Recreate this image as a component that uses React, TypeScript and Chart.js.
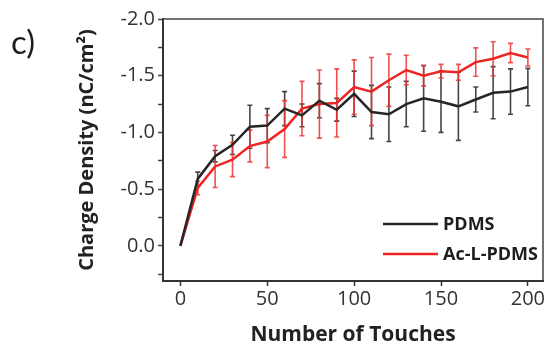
import React, { useEffect, useRef } from "react";
import { Chart, registerables } from "chart.js";

Chart.register(...registerables);

const touches = [0, 10, 20, 30, 40, 50, 60, 70, 80, 90, 100, 110, 120, 130, 140, 150, 160, 170, 180, 190, 200];
const pdms = [0, -0.59, -0.79, -0.89, -1.05, -1.06, -1.21, -1.15, -1.28, -1.2, -1.34, -1.18, -1.16, -1.25, -1.3, -1.27, -1.23, -1.29, -1.35, -1.36, -1.4];
const pdmsErr = [0, 0.06, 0.05, 0.085, 0.19, 0.15, 0.15, 0.1, 0.15, 0.1, 0.2, 0.235, 0.24, 0.2, 0.29, 0.27, 0.3, 0.11, 0.23, 0.2, 0.165];
const acl = [0, -0.51, -0.7, -0.76, -0.88, -0.92, -1.03, -1.21, -1.25, -1.26, -1.4, -1.36, -1.46, -1.55, -1.5, -1.54, -1.53, -1.62, -1.65, -1.7, -1.66];
const aclErr = [0, 0.06, 0.185, 0.15, 0.14, 0.23, 0.25, 0.24, 0.3, 0.3, 0.24, 0.3, 0.23, 0.13, 0.09, 0.06, 0.07, 0.125, 0.15, 0.085, 0.075];

const seriesNames = ["PDMS", "Ac-L-PDMS"];
const xTitle = "Number of Touches";
const yTitle = "Charge Density (nC/cm²)";
const panelLabel = "c)";

const lineColors = ["#262626", "#ee2424"];
const errColors = ["rgba(50,50,50,0.9)", "rgba(236,50,50,0.85)"];
const errors = [pdmsErr, aclErr];

const errorBarPlugin = {
  id: "errorBars",
  beforeDatasetsDraw(chart: any) {
    const ctx = chart.ctx;
    const xs = chart.scales.x;
    const ys = chart.scales.y;
    const area = chart.chartArea;
    ctx.save();
    ctx.beginPath();
    ctx.rect(area.left, area.top, area.right - area.left, area.bottom - area.top);
    ctx.clip();
    chart.data.datasets.forEach((ds: any, i: number) => {
      const err = errors[i];
      ctx.strokeStyle = errColors[i];
      ctx.lineWidth = 1.6;
      ds.data.forEach((p: any, j: number) => {
        const e = err[j];
        if (!e) return;
        const x = xs.getPixelForValue(p.x);
        const y1 = ys.getPixelForValue(p.y - e);
        const y2 = ys.getPixelForValue(p.y + e);
        ctx.beginPath();
        ctx.moveTo(x, y1);
        ctx.lineTo(x, y2);
        ctx.moveTo(x - 2.5, y1);
        ctx.lineTo(x + 2.5, y1);
        ctx.moveTo(x - 2.5, y2);
        ctx.lineTo(x + 2.5, y2);
        ctx.stroke();
      });
    });
    ctx.restore();
  },
  afterDraw(chart: any) {
    const ctx = chart.ctx;
    const area = chart.chartArea;
    ctx.save();
    ctx.strokeStyle = "#444";
    ctx.lineWidth = 1.5;
    ctx.beginPath();
    ctx.moveTo(area.left, area.top);
    ctx.lineTo(area.right, area.top);
    ctx.lineTo(area.right, area.bottom);
    ctx.stroke();
    const lx0 = area.right - 160;
    const lx1 = area.right - 105;
    const rows = [area.top + 205, area.top + 235];
    ctx.font = "bold 18px 'Open Sans'";
    ctx.textBaseline = "middle";
    ctx.textAlign = "left";
    seriesNames.forEach((name, i) => {
      ctx.strokeStyle = lineColors[i];
      ctx.lineWidth = 2.5;
      ctx.beginPath();
      ctx.moveTo(lx0, rows[i]);
      ctx.lineTo(lx1, rows[i]);
      ctx.stroke();
      ctx.fillStyle = "#1e1e1e";
      ctx.fillText(name, lx1 + 5, rows[i] + 1);
    });
    ctx.restore();
  },
};

export default function App() {
  const ref = useRef<HTMLCanvasElement | null>(null);

  useEffect(() => {
    if (!ref.current) return;
    const chart = new Chart(ref.current, {
      type: "line",
      data: {
        datasets: [
          {
            label: seriesNames[0],
            data: touches.map((t, i) => ({ x: t, y: pdms[i] })),
            borderColor: lineColors[0],
            borderWidth: 2.5,
            pointRadius: 0,
            tension: 0,
          },
          {
            label: seriesNames[1],
            data: touches.map((t, i) => ({ x: t, y: acl[i] })),
            borderColor: lineColors[1],
            borderWidth: 2.5,
            pointRadius: 0,
            tension: 0,
          },
        ],
      },
      options: {
        animation: false,
        responsive: false,
        maintainAspectRatio: false,
        layout: { padding: { top: 19, right: 2, left: 0, bottom: 0 } },
        plugins: {
          legend: { display: false },
          tooltip: { enabled: false },
        },
        scales: {
          x: {
            type: "linear",
            min: -10,
            max: 208.7,
            afterFit: (s: any) => {
              s.height = 68;
              s.paddingLeft = 0;
              s.paddingRight = 0;
            },
            ticks: {
              stepSize: 50,
              includeBounds: false,
              font: { family: "'Open Sans'", size: 20 },
              color: "#333",
              padding: 1,
              maxRotation: 0,
            },
            grid: {
              drawOnChartArea: false,
              drawTicks: true,
              tickLength: 5,
              tickColor: "#333",
              tickWidth: 1.5,
            },
            border: { display: true, color: "#333", width: 2 },
            title: {
              display: true,
              text: xTitle,
              font: { family: "'Open Sans'", size: 21, weight: "bold" },
              color: "#222",
              padding: { top: 0, bottom: 1 },
            },
          },
          y: {
            type: "linear",
            reverse: true,
            min: -2,
            max: 0.31,
            afterFit: (s: any) => {
              s.width = 163;
              s.paddingTop = 0;
              s.paddingBottom = 0;
            },
            ticks: {
              stepSize: 0.25,
              includeBounds: false,
              font: { family: "'Open Sans'", size: 20 },
              color: "#333",
              padding: 3,
              callback: (v: any) => {
                const n = Number(v);
                if (Math.abs(n * 2 - Math.round(n * 2)) > 1e-6) return "";
                return (Math.abs(n) < 1e-9 ? 0 : n).toFixed(1);
              },
            },
            grid: {
              drawOnChartArea: false,
              drawTicks: true,
              tickLength: 5,
              tickColor: "#444",
              tickWidth: 1.5,
            },
            border: { display: true, color: "#333", width: 2 },
            title: {
              display: true,
              text: yTitle,
              font: { family: "'Open Sans'", size: 20, weight: "bold" },
              color: "#222",
              padding: { top: 75, bottom: 0 },
            },
          },
        },
      },
      plugins: [errorBarPlugin],
    } as any);
    return () => chart.destroy();
  }, []);

  return (
    <div style={{ position: "fixed", left: 0, top: 0, width: 545, height: 349, background: "#fff" }}>
      <canvas ref={ref} width={545} height={349} style={{ display: "block" }} />
      <div
        style={{
          position: "absolute",
          left: 11,
          top: 21,
          fontFamily: "Lato, 'Noto Sans', sans-serif",
          fontWeight: 400,
          fontSize: 33,
          lineHeight: "40px",
          color: "#1e1e1e",
        }}
      >
        {panelLabel}
      </div>
    </div>
  );
}
